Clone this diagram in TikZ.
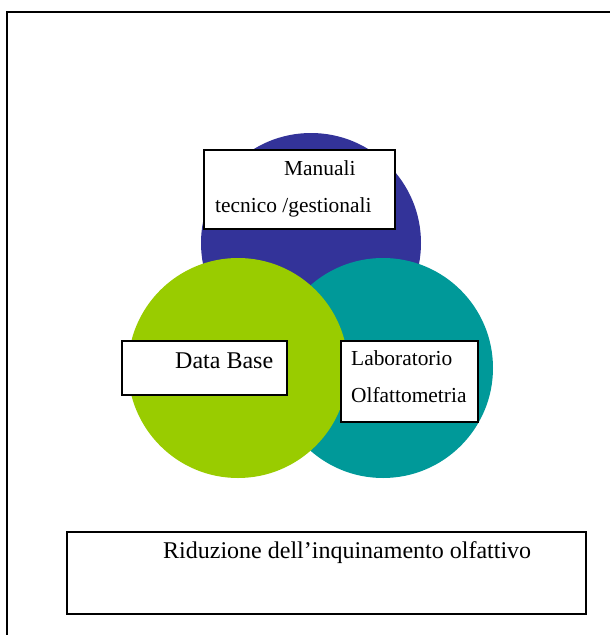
\documentclass[tikz,border=0pt]{standalone}
\usepackage{fontspec}
\setmainfont{Liberation Serif}
\definecolor{cerchioblu}{HTML}{333399}
\definecolor{cerchioteal}{HTML}{009999}
\definecolor{cerchioverde}{HTML}{99CC00}
\begin{document}
\begin{tikzpicture}[x=1pt, y=-1pt, font=\fontsize{24}{28}\selectfont,
  riquadro/.style={draw=black, line width=2pt, fill=white, rectangle, inner sep=0pt, anchor=north west},
  voce/.style={anchor=base west, inner sep=0pt},
  vocepiccola/.style={voce, font=\fontsize{21.4}{26}\selectfont}]
  \useasboundingbox (0,0) rectangle (610,635);
  \draw[line width=2pt] (6.5,635) -- (6.5,11.5) -- (610,11.5);
  \foreach \cx/\cy/\col in {311/243/cerchioblu, 383/368/cerchioteal, 238/368/cerchioverde}
    \fill[\col] (\cx,\cy) circle (110pt);
  \node[riquadro, minimum width=191pt, minimum height=79pt] (manuali) at (203,149) {};
  \node[riquadro, minimum width=165pt, minimum height=54pt] (database) at (121,340) {};
  \node[riquadro, minimum width=137pt, minimum height=81pt] (laboratorio) at (340,340) {};
  \node[riquadro, minimum width=519pt, minimum height=82pt] (riduzione) at (66,531) {};
  \node[vocepiccola] (tmanuali) at (284,175) {Manuali};
  \node[vocepiccola] (ttecnico) at (215,212) {tecnico /gestionali};
  \node[voce] (tdatabase) at (175,368) {Data Base};
  \node[vocepiccola] (tlab) at (351,365) {Laboratorio};
  \node[vocepiccola] (tolf) at (351,402) {Olfattometria};
  \node[voce] (triduzione) at (163,558) {Riduzione dell’inquinamento olfattivo};
\end{tikzpicture}
\end{document}
